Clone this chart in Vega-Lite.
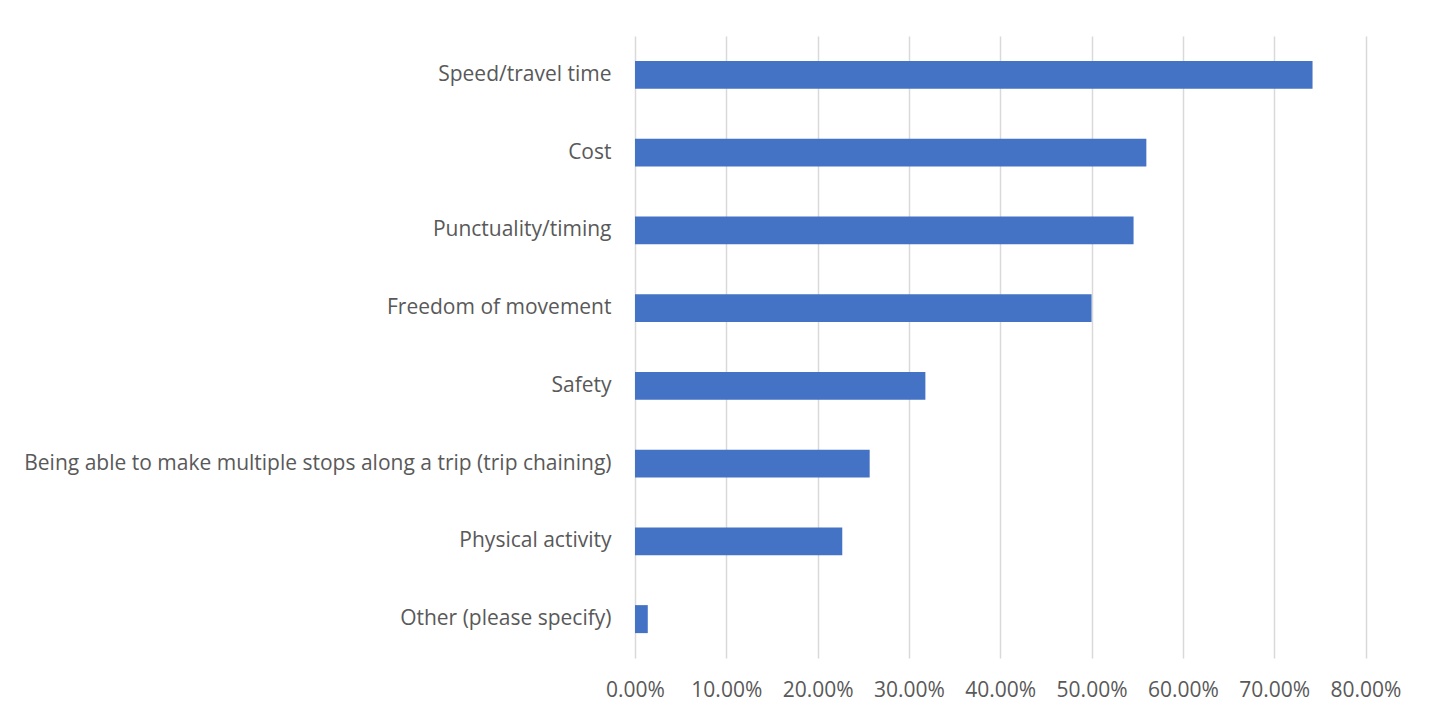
{
  "$schema": "https://vega.github.io/schema/vega-lite/v6.json",
  "autosize": {"type": "none"},
  "padding": {"left": 635, "top": 36, "right": 71, "bottom": 60},
  "width": 730.5,
  "height": 622,
  "background": "white",
  "config": {
    "view": {"stroke": null},
    "font": "Open Sans",
    "axis": {"labelFont": "Open Sans", "labelColor": "#595959", "labelFontSize": 21}
  },
  "data": {
    "values": [
      {"reason": "Speed/travel time", "share": 0.742},
      {"reason": "Cost", "share": 0.56},
      {"reason": "Punctuality/timing", "share": 0.546},
      {"reason": "Freedom of movement", "share": 0.5},
      {"reason": "Safety", "share": 0.318},
      {"reason": "Being able to make multiple stops along a trip (trip chaining)", "share": 0.257},
      {"reason": "Physical activity", "share": 0.227},
      {"reason": "Other (please specify)", "share": 0.014}
    ]
  },
  "mark": {"type": "bar", "color": "#4472C4"},
  "encoding": {
    "y": {
      "field": "reason", "type": "nominal", "sort": null, "title": null,
      "scale": {"paddingInner": 0.64, "paddingOuter": 0.32},
      "axis": {"ticks": false, "domain": false, "labelPadding": 24, "labelLimit": 700}
    },
    "x": {
      "field": "share", "type": "quantitative", "title": null,
      "scale": {"domain": [0, 0.8], "nice": false},
      "axis": {"format": ".2%", "values": [0, 0.1, 0.2, 0.3, 0.4, 0.5, 0.6, 0.7, 0.8], "domain": false, "ticks": false, "labelPadding": 21, "labelOverlap": false, "labelFlush": false, "labelBound": false, "labelFontSize": 21, "gridColor": "#d9d9d9", "gridWidth": 1.5}
    }
  }
}
